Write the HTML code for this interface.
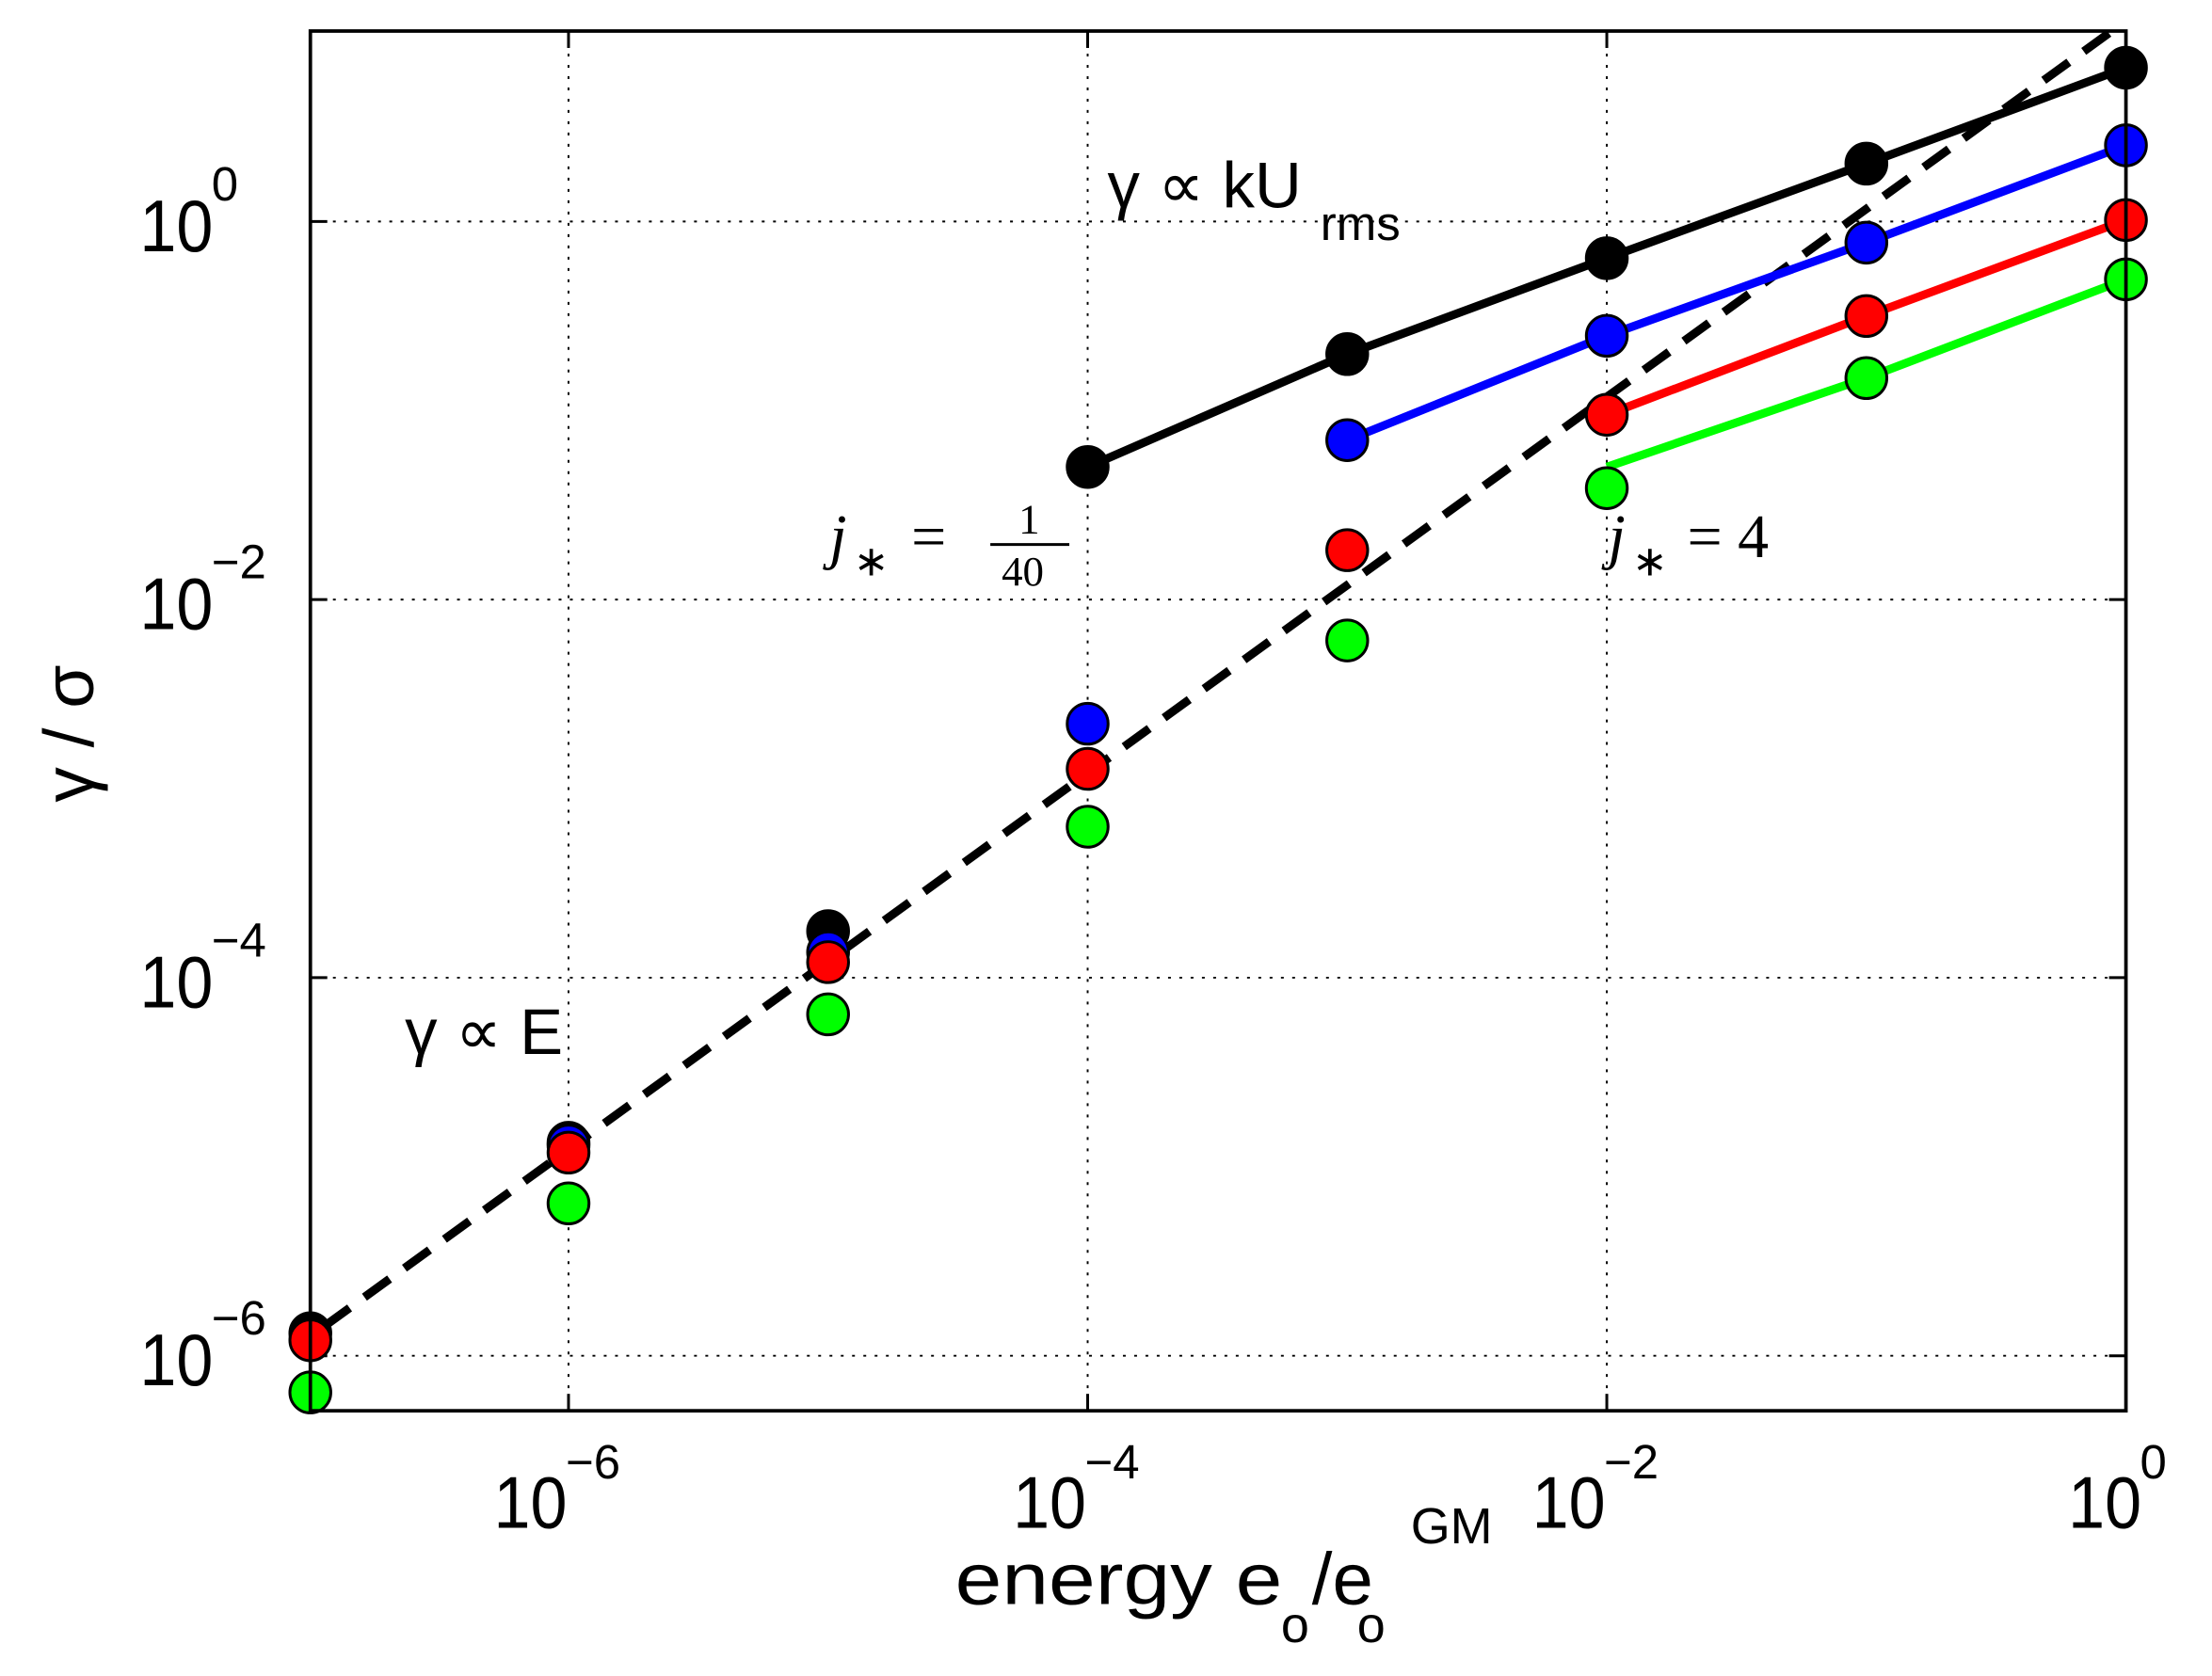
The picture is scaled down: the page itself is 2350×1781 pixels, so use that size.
<!DOCTYPE html>
<html><head><meta charset="utf-8"><style>html,body{margin:0;padding:0;background:#fff}svg{display:block}</style></head>
<body>
<svg width="2350" height="1781" viewBox="0 0 1568 1188" preserveAspectRatio="none" xmlns="http://www.w3.org/2000/svg">
<rect width="1568" height="1188" fill="#fff"/>
<g stroke="#000" stroke-width="1.3" stroke-dasharray="2,6" fill="none">
<line x1="403" y1="22" x2="403" y2="1000"/><line x1="771" y1="22" x2="771" y2="1000"/><line x1="1139" y1="22" x2="1139" y2="1000"/>
<line x1="220" y1="157" x2="1507" y2="157"/><line x1="220" y1="425" x2="1507" y2="425"/><line x1="220" y1="693" x2="1507" y2="693"/><line x1="220" y1="961" x2="1507" y2="961"/>
</g>
<g stroke="#000" stroke-width="2">
<line x1="403" y1="1000" x2="403" y2="988"/><line x1="771" y1="1000" x2="771" y2="988"/><line x1="1139" y1="1000" x2="1139" y2="988"/>
<line x1="403" y1="22" x2="403" y2="34"/><line x1="771" y1="22" x2="771" y2="34"/><line x1="1139" y1="22" x2="1139" y2="34"/>
<line x1="220" y1="157" x2="232" y2="157"/><line x1="220" y1="425" x2="232" y2="425"/><line x1="220" y1="693" x2="232" y2="693"/><line x1="220" y1="961" x2="232" y2="961"/>
<line x1="1507" y1="157" x2="1495" y2="157"/><line x1="1507" y1="425" x2="1495" y2="425"/><line x1="1507" y1="693" x2="1495" y2="693"/><line x1="1507" y1="961" x2="1495" y2="961"/>
</g>
<line x1="230" y1="940" x2="1497" y2="22" stroke="#000" stroke-width="6" stroke-dasharray="22,13"/>
<g stroke-width="6" fill="none">
<polyline points="771,331 955,251 1139,183 1323,116 1507,48" stroke="#000"/>
<polyline points="955,312 1139,238 1323,172 1507,103" stroke="#00f"/>
<polyline points="1139,294 1323,224 1507,156" stroke="#f00"/>
<polyline points="1139,331 1323,268 1507,198" stroke="#0f0"/>
</g>
<g stroke="#000" stroke-width="2">
<g fill="#000"><circle cx="771" cy="331" r="14.5"/><circle cx="955" cy="251" r="14.5"/><circle cx="1139" cy="183" r="14.5"/><circle cx="1323" cy="116" r="14.5"/><circle cx="1507" cy="48" r="14.5"/><circle cx="587" cy="660" r="14.5"/><circle cx="403" cy="810" r="14.5"/><circle cx="220" cy="945" r="14.5"/></g>
<g fill="#00f"><circle cx="955" cy="312" r="14.5"/><circle cx="1139" cy="238" r="14.5"/><circle cx="1323" cy="172" r="14.5"/><circle cx="1507" cy="103" r="14.5"/><circle cx="771" cy="513" r="14.5"/><circle cx="587" cy="675" r="14.5"/><circle cx="403" cy="812" r="14.5"/></g>
<g fill="#f00"><circle cx="1139" cy="294" r="14.5"/><circle cx="1323" cy="224" r="14.5"/><circle cx="1507" cy="156" r="14.5"/><circle cx="955" cy="390" r="14.5"/><circle cx="771" cy="545" r="14.5"/><circle cx="587" cy="682" r="14.5"/><circle cx="403" cy="817" r="14.5"/><circle cx="220" cy="950" r="14.5"/></g>
<g fill="#0f0"><circle cx="1139" cy="346" r="14.5"/><circle cx="1323" cy="268" r="14.5"/><circle cx="1507" cy="198" r="14.5"/><circle cx="955" cy="454" r="14.5"/><circle cx="771" cy="586" r="14.5"/><circle cx="587" cy="719" r="14.5"/><circle cx="403" cy="853" r="14.5"/><circle cx="220" cy="987" r="14.5"/></g>
</g>
<rect x="220" y="22" width="1287" height="978" fill="none" stroke="#000" stroke-width="2.5"/>
<g font-family="Liberation Sans, sans-serif" fill="#000">
<g font-size="52">
<text x="99" y="178" textLength="52" lengthAdjust="spacingAndGlyphs">10</text><text x="150" y="142" font-size="34">0</text>
<text x="99" y="446" textLength="52" lengthAdjust="spacingAndGlyphs">10</text><text x="150" y="410" font-size="34">−2</text>
<text x="99" y="714" textLength="52" lengthAdjust="spacingAndGlyphs">10</text><text x="150" y="678" font-size="34">−4</text>
<text x="99" y="982" textLength="52" lengthAdjust="spacingAndGlyphs">10</text><text x="150" y="946" font-size="34">−6</text>
<text x="350" y="1083" textLength="52" lengthAdjust="spacingAndGlyphs">10</text><text x="401" y="1048" font-size="34">−6</text>
<text x="718" y="1083" textLength="52" lengthAdjust="spacingAndGlyphs">10</text><text x="769" y="1048" font-size="34">−4</text>
<text x="1086" y="1083" textLength="52" lengthAdjust="spacingAndGlyphs">10</text><text x="1137" y="1048" font-size="34">−2</text>
<text x="1466" y="1083" textLength="52" lengthAdjust="spacingAndGlyphs">10</text><text x="1517" y="1048" font-size="34">0</text>
</g>
<text x="677" y="1137" font-size="52" textLength="232" lengthAdjust="spacingAndGlyphs">energy e</text>
<text x="908" y="1164" font-size="36">o</text>
<text x="930" y="1137" font-size="52">/e</text>
<text x="962" y="1164" font-size="36">o</text>
<text x="1000" y="1094" font-size="36">GM</text>
<text transform="translate(66,520) rotate(-90)" text-anchor="middle" font-size="50">γ / σ</text>
<text x="785" y="147" font-size="46">γ ∝ kU</text><text x="936" y="170" font-size="34">rms</text>
<text x="287" y="747" font-size="46">γ ∝ E</text>
</g>
<g font-family="Liberation Serif, serif" fill="#000" font-size="44">
<text x="588" y="395" font-style="italic">j</text><text x="605" y="408" font-size="30">∗</text><text x="646" y="395">=</text>
<text x="722" y="378" font-size="30">1</text><line x1="702" y1="386" x2="758" y2="386" stroke="#000" stroke-width="2"/><text x="710" y="415" font-size="30">40</text>
<text x="1140" y="395" font-style="italic">j</text><text x="1157" y="408" font-size="30">∗</text><text x="1196" y="395">= 4</text>
</g>
</svg>
</body></html>
